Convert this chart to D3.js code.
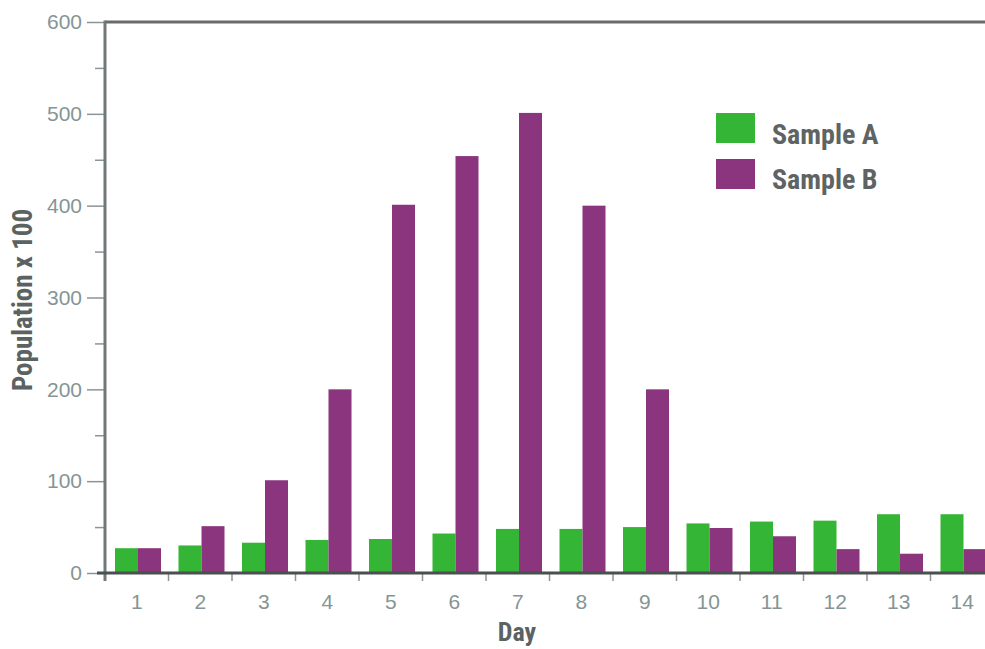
<!DOCTYPE html>
<html><head><meta charset="utf-8">
<script src="https://cdn.jsdelivr.net/npm/d3@7/dist/d3.min.js"></script>
<style>
html,body{margin:0;padding:0;background:#fff;}
svg{display:block;}
text{font-family:"Liberation Sans Narrow","Roboto Condensed","Liberation Sans",sans-serif;}
.tk text{font-family:"Liberation Sans",Arial,sans-serif;}
</style></head>
<body><svg id="chart" width="985" height="649"></svg>
<script>
const days = ["1","2","3","4","5","6","7","8","9","10","11","12","13","14"];
const sampleA = [27,30,33,36,37,43,48,48,50,54,56,57,64,64];
const sampleB = [27,51,101,200,401,454,501,400,200,49,40,26,21,26];
const yTicks = [0,100,200,300,400,500,600];
const seriesNames = ["Sample A","Sample B"];
const seriesColors = ["#35b535","#8b357f"];

(function(){
const svg = d3.select("#chart");
const mL = 105, mR = 994, mT = 22, mB = 573;

const x = d3.scaleBand().domain(days).range([mL, mR]).paddingInner(0).paddingOuter(0);
const y = d3.scaleLinear().domain([0,600]).range([mB, mT]);
const bw = 23;

svg.append("line").attr("x1",mL).attr("x2",985).attr("y1",y(600)).attr("y2",y(600))
  .attr("stroke","#6a6a6a").attr("stroke-width",3);

const g = svg.append("g");
days.forEach((d,i)=>{
  const bx = x(d) + 10;
  g.append("rect").attr("x",bx).attr("y",y(sampleA[i])).attr("width",bw).attr("height",y(0)-y(sampleA[i])).attr("fill",seriesColors[0]);
  g.append("rect").attr("x",bx+bw).attr("y",y(sampleB[i])).attr("width",bw).attr("height",y(0)-y(sampleB[i])).attr("fill",seriesColors[1]);
});

const yAxis = svg.append("g").attr("class","tk").attr("transform",`translate(${mL},0)`)
  .call(d3.axisLeft(y).tickValues(yTicks).tickSize(18).tickPadding(5));
yAxis.select(".domain").remove();
yAxis.selectAll(".tick line").attr("stroke","#8a9595").attr("stroke-width",1.5);
yAxis.selectAll(".tick text").attr("fill","#859595").attr("font-size",21);
const minor = d3.range(50,600,100);
svg.append("g").attr("transform",`translate(${mL},0)`)
  .call(d3.axisLeft(y).tickValues(minor).tickSize(10).tickFormat(""))
  .call(s=>{s.select(".domain").remove(); s.selectAll(".tick line").attr("stroke","#8a9595").attr("stroke-width",1.5);});
svg.append("line").attr("x1",mL).attr("x2",mL).attr("y1",mT-1.5).attr("y2",mB+8)
  .attr("stroke","#707878").attr("stroke-width",3);

const xAxis = svg.append("g").attr("class","tk").attr("transform",`translate(0,${mB})`)
  .call(d3.axisBottom(x).tickSize(0).tickPadding(21));
xAxis.select(".domain").remove();
xAxis.selectAll(".tick text").attr("fill","#859595").attr("font-size",21);
const bounds = days.map(d=>x(d)).slice(1);
svg.append("g").selectAll("line").data(bounds).join("line")
  .attr("x1",d=>d).attr("x2",d=>d).attr("y1",mB).attr("y2",mB+8)
  .attr("stroke","#8a9595").attr("stroke-width",1.5);
svg.append("line").attr("x1",mL-8).attr("x2",985).attr("y1",mB).attr("y2",mB)
  .attr("stroke","#4a4f4f").attr("stroke-width",3);

svg.append("text").attr("x",517).attr("y",641).attr("text-anchor","middle")
  .attr("font-size",26).attr("font-weight","bold").attr("fill","#5a6262").text("Day");
svg.append("text").attr("transform","translate(32,300) rotate(-90)").attr("text-anchor","middle")
  .attr("font-size",27).attr("font-weight","bold").attr("fill","#5a6262").text("Population x 100");

const leg = svg.append("g");
seriesNames.forEach((n,i)=>{
  leg.append("rect").attr("x",716).attr("y",113+i*46).attr("width",39).attr("height",30).attr("fill",seriesColors[i]);
  leg.append("text").attr("x",772).attr("y",144+i*45).attr("font-size",28).attr("font-weight","bold")
    .attr("fill","#5e6363").text(n);
});
})();
</script></body></html>
